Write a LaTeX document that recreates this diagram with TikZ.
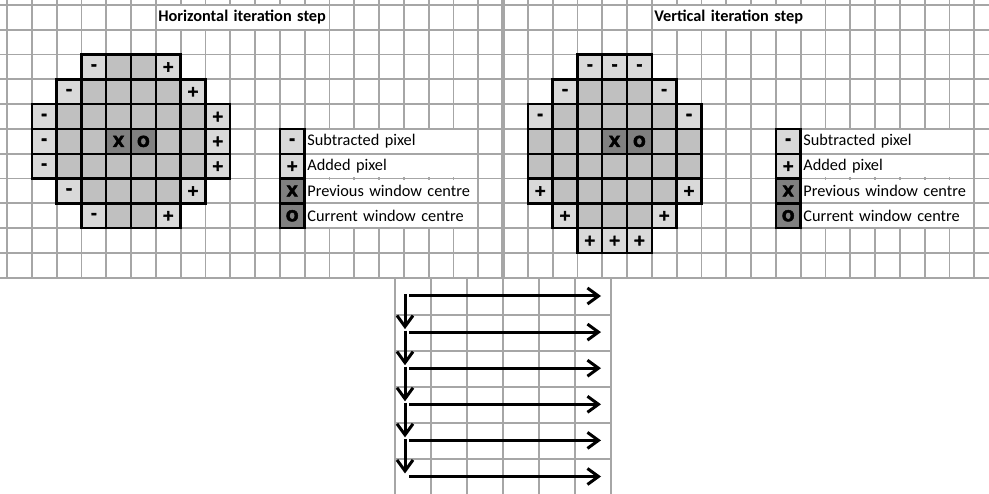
\documentclass[tikz,border=0pt]{standalone}
\usepackage{fontspec}
\setmainfont{Carlito}
\newfontfamily\symfont{DejaVu Sans}[BoldFeatures={FakeBold=3}]
\usetikzlibrary{arrows.meta,positioning}
\definecolor{gridgrey}{RGB}{166,166,166}
\definecolor{pixgrey}{RGB}{192,192,192}
\definecolor{edgegrey}{RGB}{217,217,217}
\definecolor{centregrey}{RGB}{128,128,128}

\begin{document}
\begin{tikzpicture}[x=1pt,y=-1pt,
 gridline/.style={draw=gridgrey,line width=1.8pt},
 pix/.style={draw,line width=2.5pt,fill=pixgrey,minimum size=24.8pt,inner sep=0pt,outer sep=0pt,font=\symfont\bfseries\fontsize{15}{15}\selectfont},
 subpix/.style={pix,fill=edgegrey},addpix/.style={pix,fill=edgegrey},ctrpix/.style={pix,fill=centregrey},
 legtext/.style={fill=white,text width=168pt,inner xsep=1.5pt,inner ysep=0pt,outer sep=0pt,minimum height=22.6pt,align=left,font=\fontsize{16.3}{18}\selectfont},
 title/.style={legtext,anchor=west,xshift=1pt,font=\bfseries\fontsize{16.3}{18}\selectfont},
 flow/.style={line width=3pt,-{Straight Barb[length=11pt,width=16pt]}}]
\useasboundingbox (0,0) rectangle (989,494);
% spreadsheet grid
\foreach \n in {0,...,39} \draw[gridline] ({7+24.8*\n},0) -- ({7+24.8*\n},277.8);
\foreach \m in {0,...,11} \draw[gridline] (0,{5+24.8*\m}) -- (989,{5+24.8*\m});
\draw[gridline,line width=4pt] (503,0) -- (503,277.8);
\foreach \i in {0,...,6} \draw[gridline,line width=1.4pt] ({395+36*\i},277.8) -- ({395+36*\i},494);
\foreach \j in {1,...,5} \draw[gridline,line width=1.4pt] (395,{279+36*\j}) -- (611,{279+36*\j});

\begin{scope}[shift={(7,5)},x=24.8pt,y=-24.8pt]
% horizontal step
\node[title] (title-h) at (6,.5) {Horizontal iteration step};
\foreach \r/\a/\b in {2/3/6,3/2/7,4/1/8,5/1/8,6/1/8,7/2/7,8/3/6}
  \foreach \c in {\a,...,\b} \node[pix] (h\r-\c) at (\c+.5,\r+.5) {};
\foreach \r/\c in {2/3,3/2,4/1,5/1,6/1,7/2,8/3} \node[subpix] (hs\r-\c) at (\c+.5,\r+.5) {-};
\foreach \r/\c in {2/6,3/7,4/8,5/8,6/8,7/7,8/6} \node[addpix] (ha\r-\c) at (\c+.5,\r+.5) {+};
\node[ctrpix] (h-prev) at (4.5,5.5) {X};
\node[ctrpix] (h-cur) at (5.5,5.5) {O};
% vertical step
\begin{scope}[shift={(20,0)}]
\node[title] (title-v) at (6,.5) {Vertical iteration step};
\foreach \r/\a/\b in {3/2/6,4/1/7,5/1/7,6/1/7,7/1/7,8/2/6}
  \foreach \c in {\a,...,\b} \node[pix] (v\r-\c) at (\c+.5,\r+.5) {};
\foreach \r/\c in {2/3,2/4,2/5,3/2,3/6,4/1,4/7} \node[subpix] (vs\r-\c) at (\c+.5,\r+.5) {-};
\foreach \r/\c in {7/1,7/7,8/2,8/6,9/3,9/4,9/5} \node[addpix] (va\r-\c) at (\c+.5,\r+.5) {+};
\node[ctrpix] (v-prev) at (4.5,5.5) {X};
\node[ctrpix] (v-cur) at (5.5,5.5) {O};
\end{scope}
% legends
\foreach \p in {11,31}{
  \node[subpix] (key-\p-a) at (\p+.5,5.5) {-};
  \node[addpix,below=0pt of key-\p-a] (key-\p-b) {+};
  \node[ctrpix,below=0pt of key-\p-b] (key-\p-c) {X};
  \node[ctrpix,below=0pt of key-\p-c] (key-\p-d) {O};
  \node[legtext,right=1.25pt of key-\p-a] (txt-\p-a) {Subtracted pixel};
  \node[legtext,right=1.25pt of key-\p-b] (txt-\p-b) {Added pixel};
  \node[legtext,right=1.25pt of key-\p-c] (txt-\p-c) {Previous window centre};
  \node[legtext,right=1.25pt of key-\p-d] (txt-\p-d) {Current window centre};
}
\end{scope}

% scan order
\foreach \k in {0,...,5}{
  \coordinate (row\k-s) at (409,{296+36.1*\k});
  \coordinate (row\k-e) at (601,{296+36.1*\k});
  \draw[flow] (row\k-s) -- (row\k-e);}
\foreach \k in {0,...,4}{
  \coordinate (step\k-s) at (405,{294.5+36.1*\k});
  \coordinate (step\k-e) at (405,{293+36.1*(\k+1)});
  \draw[flow] (step\k-s) -- (step\k-e);}
\end{tikzpicture}
\end{document}
